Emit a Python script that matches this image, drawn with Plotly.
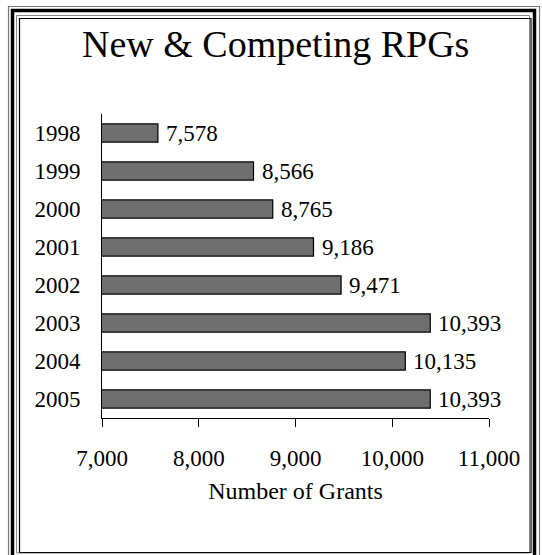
import plotly.graph_objects as go

years = ["1998", "1999", "2000", "2001", "2002", "2003", "2004", "2005"]
grants = [7578, 8566, 8765, 9186, 9471, 10393, 10135, 10393]
x_ticks = [7000, 8000, 9000, 10000, 11000]
x_tick_labels = ["7,000", "8,000", "9,000", "10,000", "11,000"]
title_text = "New & Competing RPGs"
x_title = "Number of Grants"

W, H = 542, 555
L, R, T, B = 102, 53, 114, 137
PW, PH = W - L - R, H - T - B
FONT = "Liberation Serif, Times New Roman, serif"

def px(x):
    return (x - L) / PW

def py(y):
    return (H - B - y) / PH

fig = go.Figure()
fig.add_trace(go.Bar(
    y=years, x=grants, orientation="h",
    marker=dict(color="#6e6e6e", line=dict(color="black", width=1.2)),
    width=0.48,
    hoverinfo="skip",
))

# category index positions for the value labels
for i, v in enumerate(grants):
    fig.add_annotation(x=v, y=i, text=f"{v:,}", showarrow=False,
                       xanchor="left", xshift=6, yshift=0,
                       font=dict(family=FONT, size=23, color="black"))

fig.add_annotation(x=px(275), y=py(44), xref="paper", yref="paper",
                   text=title_text, showarrow=False, xanchor="center", yanchor="middle",
                   font=dict(family=FONT, size=38, color="black"))

shapes = [
    dict(type="rect", xref="paper", yref="paper",
         x0=px(8.5), x1=px(539.5), y0=py(6.5), y1=py(600),
         line=dict(color="#777777", width=1.2), fillcolor="rgba(0,0,0,0)"),
    dict(type="rect", xref="paper", yref="paper",
         x0=px(12.5), x1=px(534.5), y0=py(10.5), y1=py(600),
         line=dict(color="black", width=3.5), fillcolor="rgba(0,0,0,0)"),
    dict(type="rect", xref="paper", yref="paper",
         x0=px(16.5), x1=px(529.5), y0=py(15.5), y1=py(553),
         line=dict(color="#888888", width=1), fillcolor="rgba(0,0,0,0)"),
    dict(type="rect", xref="paper", yref="paper",
         x0=px(19.5), x1=px(531), y0=py(18.5), y1=py(552.5),
         line=dict(color="black", width=1.2), fillcolor="rgba(0,0,0,0)"),
]

fig.update_layout(
    width=W, height=H,
    margin=dict(l=L, r=R, t=T, b=B, pad=0),
    paper_bgcolor="white", plot_bgcolor="white",
    showlegend=False,
    bargap=0.5,
    shapes=shapes,
    font=dict(family=FONT, color="black"),
    xaxis=dict(
        range=[7000, 11000], tickvals=x_ticks, ticktext=x_tick_labels,
        showgrid=False, zeroline=False,
        showline=True, linecolor="black", linewidth=1,
        ticks="outside", ticklen=8, tickcolor="black", tickwidth=1,
        tickfont=dict(family=FONT, size=23, color="black"),
        ticklabelstandoff=11,
        title=dict(text=x_title, font=dict(family=FONT, size=24, color="black"), standoff=12),
        fixedrange=True,
    ),
    yaxis=dict(
        type="category",
        categoryorder="array", categoryarray=years,
        range=[len(years) - 0.5, -0.5],
        showgrid=False, zeroline=False,
        showline=True, linecolor="black", linewidth=1,
        ticks="", tickfont=dict(family=FONT, size=23, color="black"),
        ticklabelstandoff=16,
        fixedrange=True,
    ),
)

fig.write_html("out.html", config={"displayModeBar": False},
               post_script="document.body.style.margin='0';document.body.style.padding='0';")
